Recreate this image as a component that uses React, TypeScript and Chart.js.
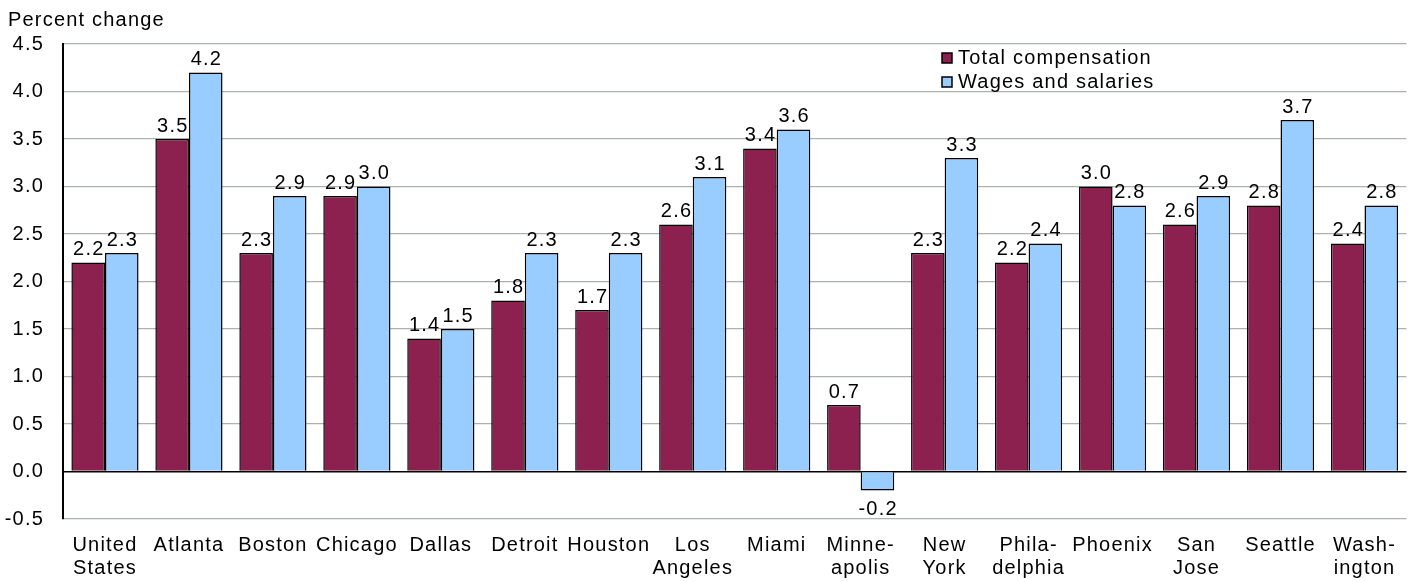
import React, { useEffect, useRef } from "react";
import { Chart, registerables } from "chart.js";

Chart.register(...registerables);

const categories: (string | string[])[] = [
  ["United", "States"], "Atlanta", "Boston", "Chicago", "Dallas", "Detroit", "Houston",
  ["Los", "Angeles"], "Miami", ["Minne-", "apolis"], ["New", "York"], ["Phila-", "delphia"],
  "Phoenix", ["San", "Jose"], "Seattle", ["Wash-", "ington"],
];
const totalCompensation = [2.2, 3.5, 2.3, 2.9, 1.4, 1.8, 1.7, 2.6, 3.4, 0.7, 2.3, 2.2, 3.0, 2.6, 2.8, 2.4];
const wagesSalaries = [2.3, 4.2, 2.9, 3.0, 1.5, 2.3, 2.3, 3.1, 3.6, -0.2, 3.3, 2.4, 2.8, 2.9, 3.7, 2.8];
const seriesNames = ["Total compensation", "Wages and salaries"];
const seriesColors = ["#8C2150", "#99CCFF"];
const yTitle = "Percent change";

const FONT = "'Liberation Sans', Arial, sans-serif";
const FS = 20;
const LS = "1.2px";

export default function App() {
  const ref = useRef<HTMLCanvasElement | null>(null);
  useEffect(() => {
    if (!ref.current) return;
    const spacingPlugin = {
      id: "spacing",
      beforeDraw(chart: any) {
        (chart.ctx as any).letterSpacing = LS;
      },
    };
    const labelPlugin = {
      id: "labels",
      afterDatasetsDraw(chart: any) {
        const ctx = chart.ctx;
        ctx.save();
        (ctx as any).letterSpacing = LS;
        ctx.font = `${FS}px ${FONT}`;
        ctx.fillStyle = "#000";
        ctx.textAlign = "center";
        chart.data.datasets.forEach((ds: any, di: number) => {
          const meta = chart.getDatasetMeta(di);
          meta.data.forEach((bar: any, i: number) => {
            const v = ds.data[i];
            const txt = v.toFixed(1);
            if (v >= 0) {
              ctx.textBaseline = "bottom";
              ctx.fillText(txt, bar.x + 0.6, bar.y - 3);
            } else {
              ctx.textBaseline = "top";
              ctx.fillText(txt, bar.x + 0.6, bar.y + 9);
            }
          });
        });
        ctx.textAlign = "left";
        ctx.textBaseline = "middle";
        ctx.fillText(yTitle, 8, 20);
        const lx = 942;
        const ly = [58, 82];
        seriesNames.forEach((n, i) => {
          ctx.fillStyle = seriesColors[i];
          ctx.fillRect(lx, ly[i] - 5, 10, 10);
          ctx.strokeStyle = "#000";
          ctx.lineWidth = 1.5;
          ctx.strokeRect(lx, ly[i] - 5, 10, 10);
          ctx.fillStyle = "#000";
          ctx.fillText(n, lx + 16, ly[i]);
        });
        ctx.restore();
      },
    };
    const chart = new Chart(ref.current, {
      type: "bar",
      data: {
        labels: categories,
        datasets: [
          {
            label: seriesNames[0],
            data: totalCompensation,
            backgroundColor: seriesColors[0],
            borderColor: "#000",
            borderWidth: 1.5,
            categoryPercentage: 0.8,
            barPercentage: 1.0,
          },
          {
            label: seriesNames[1],
            data: wagesSalaries,
            backgroundColor: seriesColors[1],
            borderColor: "#000",
            borderWidth: 1.5,
            categoryPercentage: 0.8,
            barPercentage: 1.0,
          },
        ],
      },
      options: {
        animation: false,
        responsive: false,
        maintainAspectRatio: false,
        layout: { padding: { top: 44, right: 0, left: 0, bottom: 0 } },
        plugins: { legend: { display: false }, tooltip: { enabled: false } },
        scales: {
          x: {
            grid: { display: false, drawTicks: false },
            border: { display: false },
            ticks: {
              color: "#000",
              font: { family: FONT, size: FS, lineHeight: 1.15 },
              padding: 15,
              maxRotation: 0,
              autoSkip: false,
            },
            afterFit(s: any) { s.height = 63; },
          },
          y: {
            min: -0.5,
            max: 4.5,
            grid: {
              color: (c: any) => (c.tick && c.tick.value === 0 ? "#000" : "#A9B5A9"),
              lineWidth: (c: any) => (c.tick && c.tick.value === 0 ? 1.5 : 1.2),
              drawTicks: false,
            },
            border: { display: true, color: "#000", width: 2 },
            ticks: {
              stepSize: 0.5,
              color: "#000",
              font: { family: FONT, size: FS },
              padding: 19,
              callback: (v: any) => Number(v).toFixed(1),
            },
            afterFit(s: any) { s.width = 63; },
          },
        },
      },
      plugins: [spacingPlugin, labelPlugin],
    });
    return () => chart.destroy();
  }, []);
  return (
    <div style={{ position: "fixed", left: 0, top: 0, width: 1408, height: 582, background: "#fff" }}>
      <canvas ref={ref} width={1408} height={582} style={{ width: 1408, height: 582 }} />
    </div>
  );
}
